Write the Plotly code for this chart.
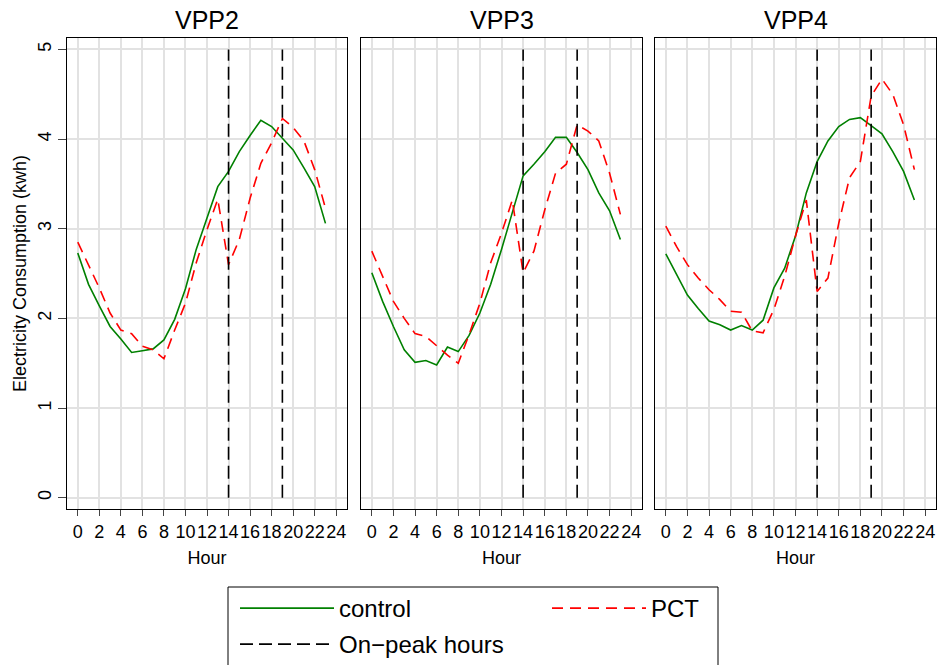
import plotly.graph_objects as go

# ---------------- data ----------------
hours = list(range(24))
panels = ["VPP2", "VPP3", "VPP4"]

vpp2_control = [2.73, 2.38, 2.14, 1.91, 1.77, 1.62, 1.64, 1.66, 1.76, 1.99, 2.33, 2.77,
                3.12, 3.47, 3.64, 3.86, 4.04, 4.21, 4.14, 4.01, 3.88, 3.68, 3.47, 3.06]
vpp2_pct = [2.85, 2.60, 2.34, 2.06, 1.87, 1.83, 1.69, 1.65, 1.55, 1.87, 2.17, 2.62,
            2.99, 3.33, 2.60, 2.88, 3.34, 3.73, 3.96, 4.23, 4.13, 3.98, 3.66, 3.23]

vpp3_control = [2.51, 2.19, 1.91, 1.65, 1.51, 1.53, 1.48, 1.68, 1.63, 1.81, 2.06, 2.38,
                2.77, 3.18, 3.59, 3.72, 3.86, 4.02, 4.02, 3.85, 3.66, 3.40, 3.20, 2.88]
vpp3_pct = [2.75, 2.47, 2.19, 2.00, 1.83, 1.80, 1.69, 1.59, 1.50, 1.82, 2.17, 2.62,
            2.95, 3.32, 2.51, 2.75, 3.21, 3.62, 3.72, 4.16, 4.09, 3.98, 3.62, 3.16]

vpp4_control = [2.72, 2.49, 2.26, 2.11, 1.97, 1.93, 1.87, 1.92, 1.87, 1.98, 2.34, 2.56,
                2.92, 3.40, 3.75, 3.98, 4.14, 4.22, 4.24, 4.15, 4.06, 3.86, 3.64, 3.32]
vpp4_pct = [3.03, 2.80, 2.60, 2.45, 2.32, 2.21, 2.08, 2.07, 1.86, 1.84, 2.10, 2.47,
            2.92, 3.32, 2.30, 2.45, 3.06, 3.57, 3.75, 4.48, 4.67, 4.50, 4.16, 3.66]

control_series = [vpp2_control, vpp3_control, vpp4_control]
pct_series = [vpp2_pct, vpp3_pct, vpp4_pct]

onpeak_hours = [14, 19]
onpeak_span = [0, 5]

x_ticks = list(range(0, 25, 2))
y_ticks = [0, 1, 2, 3, 4, 5]

# ---------------- layout geometry ----------------
W, H = 937, 665
ML, MR, MT, MB = 67, 1, 38, 156
PW = W - ML - MR
PH = H - MT - MB
domains_px = [(67, 347), (361, 642), (655, 936)]
domains = [((a - ML) / PW, (b - ML) / PW) for a, b in domains_px]

FONT = "Liberation Sans, Arial, Helvetica, sans-serif"
GREEN = "rgb(0,128,0)"
RED = "rgb(255,0,0)"
GRID = "#e2e2e2"

fig = go.Figure()

for i, name in enumerate(panels):
    xa = "x" if i == 0 else f"x{i+1}"
    ya = "y" if i == 0 else f"y{i+1}"
    fig.add_trace(go.Scatter(
        x=hours, y=control_series[i], mode="lines", name="control",
        line=dict(color=GREEN, width=1.6), legendgroup="control",
        showlegend=(i == 0), legend="legend", xaxis=xa, yaxis=ya))
    fig.add_trace(go.Scatter(
        x=hours, y=pct_series[i], mode="lines", name="PCT",
        line=dict(color=RED, width=1.6, dash="11px,7px"), legendgroup="pct",
        showlegend=(i == 0), legend="legend2", xaxis=xa, yaxis=ya))
    vx, vy = [], []
    for h in onpeak_hours:
        vx += [h, h, None]
        vy += [onpeak_span[0], onpeak_span[1], None]
    fig.add_trace(go.Scatter(
        x=vx, y=vy, mode="lines", name="On\u2212peak hours",
        line=dict(color="black", width=1.6, dash="13px,6px"), legendgroup="onpeak",
        showlegend=(i == 0), legend="legend3", xaxis=xa, yaxis=ya))

axis_common = dict(showline=True, mirror=True, linecolor="black", linewidth=1,
                   showgrid=True, gridcolor=GRID, gridwidth=1.5,
                   zeroline=True, zerolinecolor=GRID, zerolinewidth=1.5)

layout = dict(
    width=W, height=H,
    margin=dict(l=ML, r=MR, t=MT, b=MB, autoexpand=False),
    paper_bgcolor="white", plot_bgcolor="white",
    font=dict(family=FONT, color="black", size=18),
    annotations=[],
    shapes=[],
)

for i, name in enumerate(panels):
    xk = "xaxis" if i == 0 else f"xaxis{i+1}"
    yk = "yaxis" if i == 0 else f"yaxis{i+1}"
    layout[xk] = dict(axis_common, domain=list(domains[i]), range=[-1, 25],
                      tickmode="array", tickvals=x_ticks, ticks="outside",
                      ticklen=6, tickcolor="#444", tickfont=dict(size=18), tickangle=0,
                      title=dict(text="Hour", font=dict(size=18), standoff=10),
                      anchor="y" if i == 0 else f"y{i+1}")
    ydict = dict(axis_common, domain=[0, 1], range=[-0.126, 5.128],
                 tickmode="array", tickvals=y_ticks,
                 anchor="x" if i == 0 else f"x{i+1}")
    if i == 0:
        ydict.update(ticks="outside", ticklen=8, tickcolor="#444", tickangle=-90,
                     tickfont=dict(size=18),
                     title=dict(text="Electricity Consumption (kwh)", font=dict(size=18), standoff=3))
    else:
        ydict.update(showticklabels=False, ticks="")
    layout[yk] = ydict
    layout["annotations"].append(dict(
        text=name, x=(domains[i][0] + domains[i][1]) / 2, y=1, xref="paper", yref="paper",
        xanchor="center", yanchor="bottom", yshift=2, showarrow=False,
        font=dict(size=25, family=FONT)))

def px_x(p):
    return (p - ML) / PW

def px_y(p):
    return (H - MB - p) / PH

leg_common = dict(orientation="v", itemwidth=94, font=dict(size=24, family=FONT),
                  bgcolor="rgba(0,0,0,0)", borderwidth=0, xanchor="left", yanchor="top",
                  itemclick=False, itemdoubleclick=False)
layout["legend"] = dict(leg_common, x=px_x(235), y=px_y(586))
layout["legend2"] = dict(leg_common, x=px_x(547), y=px_y(586))
layout["legend3"] = dict(leg_common, x=px_x(235), y=px_y(622))
layout["shapes"].append(dict(type="rect", xref="paper", yref="paper",
                             x0=px_x(228), x1=px_x(718), y0=px_y(587), y1=px_y(680),
                             line=dict(color="black", width=1), fillcolor="rgba(0,0,0,0)"))

fig.update_layout(**layout)
fig.write_html("out.html")
